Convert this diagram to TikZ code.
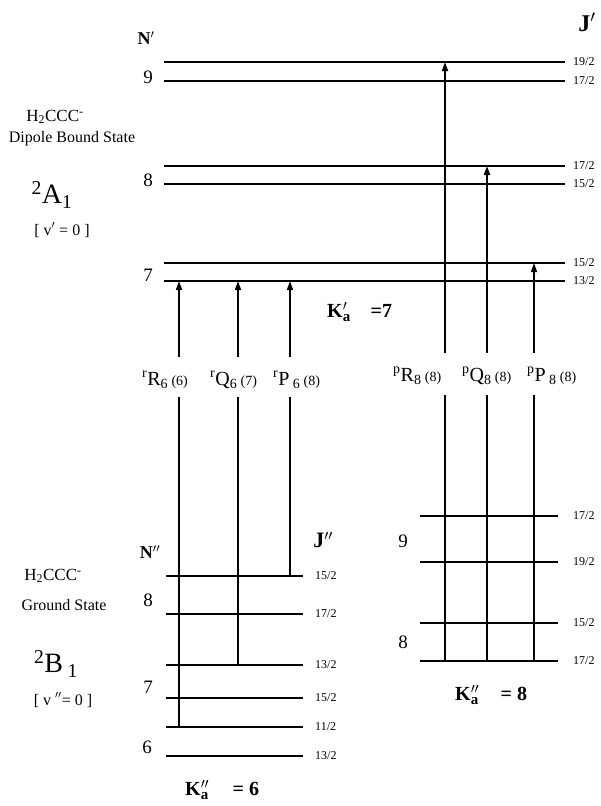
\documentclass[tikz,border=0pt]{standalone}
\usepackage{fontspec}
\setmainfont{Liberation Serif}
\usetikzlibrary{arrows.meta}
\newcommand\fs[1]{\fontsize{#1}{#1}\selectfont}
\newcommand\trlab[4]{\textsuperscript{#1}#2\textsubscript{#3}\,{\fs{14}(#4)}}
\newcommand\kalab[3]{\textbf{K}\makebox[0pt][l]{\raisebox{-4pt}{\fs{15}\textbf{a}}}\raisebox{7pt}{\fs{15}$#1$}\hspace{#3}\textbf{#2}}
\begin{document}
\begin{tikzpicture}[x=1pt,y=-1pt,
  arr/.style={line width=1.6pt,-{Triangle[length=9pt,width=6pt]}},
  vline/.style={line width=1.8pt},
  jlab/.style={anchor=west,font=\fs{12},inner sep=0pt},
  nlab/.style={font=\fs{19},inner sep=0pt},
  tlab/.style={font=\fs{20},inner sep=0pt,anchor=west},
  kl/.style={font=\fs{20},inner sep=0pt,anchor=west},
  hd/.style={font=\fs{18}\bfseries,inner sep=0pt},
  txt/.style={inner sep=0pt}]
\useasboundingbox (0,0) rectangle (601,806);

% upper levels
\foreach \n/\y/\j/\w in {U1/62/19/2.0,U2/81/17/1.8,U3/166/17/1.8,U4/184/15/1.8,U5/263/15/1.8,U6/281/13/2.5}{
  \coordinate (\n l) at (164,\y);
  \coordinate (\n r) at (565,\y);
  \draw[line width=\w pt] (\n l) -- (\n r);
  \node[jlab] (\n j) at (573,\y) {\j/2};
}
% lower left levels
\foreach \n/\y/\j/\w in {L1/576/15/2.5,L2/614/17/2.0,L3/665/13/2.0,L4/698/15/1.7,L5/727/11/1.6,L6/756/13/2.8}{
  \coordinate (\n l) at (166,\y);
  \coordinate (\n r) at (303,\y);
  \draw[line width=\w pt] (\n l) -- (\n r);
  \node[jlab] (\n j) at (315,\y) {\j/2};
}
% lower right levels
\foreach \n/\y/\j/\w in {R1/516/17/1.7,R2/562/19/2.0,R3/623/15/1.7,R4/661/17/2.8}{
  \coordinate (\n l) at (420,\y);
  \coordinate (\n r) at (558,\y);
  \draw[line width=\w pt] (\n l) -- (\n r);
  \node[jlab] (\n j) at (573,\y) {\j/2};
}

% N labels
\node[hd] (Np) at (146,38) {N$'$};
\node[nlab] (N9u) at (148,77) {9};
\node[nlab] (N8u) at (148,180) {8};
\node[nlab] (N7u) at (148,275) {7};
\node[hd,font=\fs{24}\bfseries] (Jp) at (587,22) {J$'$};
\node[hd] (Npp) at (150,552) {N$''$};
\node[hd,font=\fs{22}\bfseries] (Jpp) at (323,540) {J$''$};
\node[nlab] (N8l) at (148,600) {8};
\node[nlab] (N7l) at (148,687) {7};
\node[nlab] (N6l) at (147,747) {6};
\node[nlab] (N9r) at (403,541) {9};
\node[nlab] (N8r) at (403,642) {8};

% transition labels
\node[tlab] (tR6) at (142,380) {\trlab{r}{R}{6}{6}};
\node[tlab] (tQ6) at (210,380) {\trlab{r}{Q}{6}{7}};
\node[tlab] (tP6) at (273,380) {\trlab{r}{P\,}{6}{8}};
\node[tlab] (tR8) at (393,376) {\trlab{p}{R}{8}{8}};
\node[tlab] (tQ8) at (462,376) {\trlab{p}{Q}{8}{8}};
\node[tlab] (tP8) at (527,376) {\trlab{p}{P\,}{8}{8}};

% arrow/line endpoints
\coordinate (aR6) at (179,357);
\coordinate (aQ6) at (238,357);
\coordinate (aP6) at (290,357);
\coordinate (bR6) at (179,397);
\coordinate (bQ6) at (238,397);
\coordinate (bP6) at (290,397);
\coordinate (aR8) at (445,353);
\coordinate (aQ8) at (487,353);
\coordinate (aP8) at (534,353);
\coordinate (bR8) at (445,395);
\coordinate (bQ8) at (487,395);
\coordinate (bP8) at (534,395);

\draw[arr] (aR6) -- (aR6 |- U6l);
\draw[arr] (aQ6) -- (aQ6 |- U6l);
\draw[arr] (aP6) -- (aP6 |- U6l);
\draw[vline] (bR6) -- (bR6 |- L5l);
\draw[vline] (bQ6) -- (bQ6 |- L3l);
\draw[vline] (bP6) -- (bP6 |- L1l);

\draw[arr] (aR8) -- (aR8 |- U1l);
\draw[arr] (aQ8) -- (aQ8 |- U3l);
\draw[arr] (aP8) -- (aP8 |- U5l);
\draw[vline] (bR8) -- (bR8 |- R4l);
\draw[vline] (bQ8) -- (bQ8 |- R4l);
\draw[vline] (bP8) -- (bP8 |- R4l);

% K labels
\node[kl] (Ka7) at (327,312) {\kalab{\prime}{=7}{24pt}};
\node[kl] (Ka8) at (455,695) {\kalab{\prime\prime}{= 8}{22pt}};
\node[kl] (Ka6) at (185,790) {\kalab{\prime\prime}{= 6}{24pt}};

% state descriptions
\node[txt,font=\fs{17}] (h1) at (55,117) {H\textsubscript{2}CCC\textsuperscript{-}};
\node[txt,font=\fs{16}] (d1) at (72,139) {Dipole Bound State};
\node[txt,font=\fs{28}] (A1) at (52,195) {\textsuperscript{2}A\textsubscript{1}};
\node[txt,font=\fs{16}] (v1) at (62,230) {[ v$'$ = 0 ]};
\node[txt,font=\fs{17}] (h2) at (53,576) {H\textsubscript{2}CCC\textsuperscript{-}};
\node[txt,font=\fs{16}] (g2) at (64,605) {Ground State};
\node[txt,font=\fs{28}] (B1) at (56,664) {\textsuperscript{2}B\,\textsubscript{1}};
\node[txt,font=\fs{16}] (v2) at (63,700) {[ v $''$= 0 ]};
\end{tikzpicture}
\end{document}
